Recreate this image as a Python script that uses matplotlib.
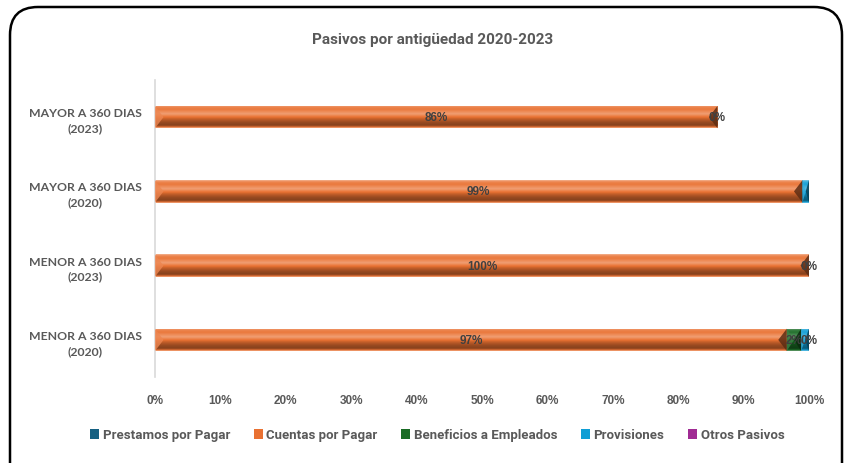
import numpy as np
import matplotlib
matplotlib.use("Agg")
import matplotlib.pyplot as plt
from matplotlib.patches import Patch, Polygon, FancyBboxPatch
from matplotlib.colors import to_rgb

# ---------------- data ----------------
categories = ["MENOR A 360 DIAS\n(2020)", "MENOR A 360 DIAS\n(2023)",
              "MAYOR A 360 DIAS\n(2020)", "MAYOR A 360 DIAS\n(2023)"]
series_names = ["Prestamos por Pagar", "Cuentas por Pagar", "Beneficios a Empleados",
                "Provisiones", "Otros Pasivos"]
prestamos = [0.0, 0.0, 0.0, 0.0]
cuentas = [96.6, 100.0, 99.0, 86.0]
beneficios = [2.2, 0.0, 0.0, 0.0]
provisiones = [1.2, 0.0, 1.0, 0.0]
otros = [0.0, 0.0, 0.0, 0.0]
series_values = [prestamos, cuentas, beneficios, provisiones, otros]
# which segment labels are displayed in the reference
show_labels = [
    [False, False, False, False],
    [True, True, True, True],
    [True, False, False, False],
    [False, False, False, False],
    [True, True, False, True],
]
colors = ["#156082", "#E97132", "#196B24", "#0F9ED5", "#A02B93"]
xticks = [0, 10, 20, 30, 40, 50, 60, 70, 80, 90, 100]
xtick_labels = [f"{t}%" for t in xticks]

# ---------------- figure ----------------
W, H = 844, 464
fig = plt.figure(figsize=(W / 100, H / 100), dpi=100)
narrow = ["Roboto", "DejaVu Sans"]
gray = "#595959"

# rounded border
border = FancyBboxPatch((0.10, -0.30), 8.32, 4.86,
                        boxstyle="round,pad=0,rounding_size=0.28",
                        transform=fig.dpi_scale_trans, fill=False,
                        edgecolor="black", linewidth=1.8, zorder=0)
fig.patches.append(border)

ax = fig.add_axes([155 / W, 1 - 378 / H, 654 / W, 297 / H])
ax.set_facecolor("none")

y = np.arange(len(categories))
bar_h = 0.30

# gradient profile (top -> bottom)
pos = np.array([0.0, 0.07, 0.18, 0.38, 0.50, 0.62, 0.76, 0.88, 0.94, 1.0])
amt = np.array([0.45, 0.15, 0.05, 0.32, 0.05, -0.18, -0.35, -0.42, -0.2, 0.40])
samp = np.linspace(0, 1, 60)
prof = np.interp(samp, pos, amt)


def shade(c, a):
    c = np.array(to_rgb(c))
    if a >= 0:
        return c + (1 - c) * a
    return c * (1 + a)


left = np.zeros(len(categories))
for name, vals, col, flags in zip(series_names, series_values, colors, show_labels):
    vals = np.array(vals)
    bars = ax.barh(y, vals, left=left, height=bar_h, color=col, linewidth=0, zorder=2)
    grad = np.array([shade(col, a) for a in prof])[:, None, :]
    for b, v, f in zip(bars, vals, flags):
        x0, y0, w, h = b.get_x(), b.get_y(), b.get_width(), b.get_height()
        if w > 0:
            im = ax.imshow(grad, extent=[x0, x0 + w, y0, y0 + h], aspect="auto",
                           origin="upper", zorder=2, interpolation="bilinear")
            im.set_clip_path(b)
            bev = min(1.3, w / 2)
            yc = y0 + h / 2
            ax.add_patch(Polygon([[x0, y0], [x0, y0 + h], [x0 + bev, yc]],
                                 closed=True, facecolor=shade(col, 0.15), alpha=0.8,
                                 linewidth=0, zorder=3))
            ax.add_patch(Polygon([[x0 + w, y0], [x0 + w, y0 + h], [x0 + w - bev, yc]],
                                 closed=True, facecolor=shade(col, -0.6), alpha=0.85,
                                 linewidth=0, zorder=3))
        if f:
            ax.text(x0 + w / 2, y0 + h / 2, f"{v:.0f}%", ha="center", va="center",
                    fontsize=8.5, fontweight="bold", color="#404040", zorder=5,
                    family=["Liberation Sans", "DejaVu Sans"])
    left = left + vals

ax.set_xlim(0, 100)
ax.set_ylim(-0.5, len(categories) - 0.5)
ax.set_xticks(xticks)
ax.set_xticklabels(xtick_labels, fontsize=8.5, fontweight="bold", color=gray,
                   family=["Liberation Sans", "DejaVu Sans"])
ax.set_yticks(y)
ax.set_yticklabels(categories, fontsize=8.8, fontweight="bold", color=gray,
                   family=["Lato", "DejaVu Sans"], ha="center", linespacing=1.45)
ax.tick_params(axis="y", length=0, pad=50)
ax.tick_params(axis="x", length=0, pad=12)
for s in ["top", "right", "bottom"]:
    ax.spines[s].set_visible(False)
ax.spines["left"].set_color("#D9D9D9")
ax.spines["left"].set_linewidth(1.2)

fig.text(0.513, 1 - 40 / H, "Pasivos por antigüedad 2020-2023", ha="center", va="center",
         fontsize=11, fontweight="bold", color=gray, family=narrow)

handles = [Patch(facecolor=c, edgecolor="none") for c in colors]
fig.legend(handles, series_names, loc="center", bbox_to_anchor=(0.518, 1 - 436 / H),
           ncol=5, frameon=False, handlelength=0.7, handleheight=0.7,
           handletextpad=0.25, columnspacing=1.8,
           prop={"family": narrow, "weight": "bold", "size": 9.5},
           labelcolor=gray)

fig.savefig("out.png", dpi=100)
